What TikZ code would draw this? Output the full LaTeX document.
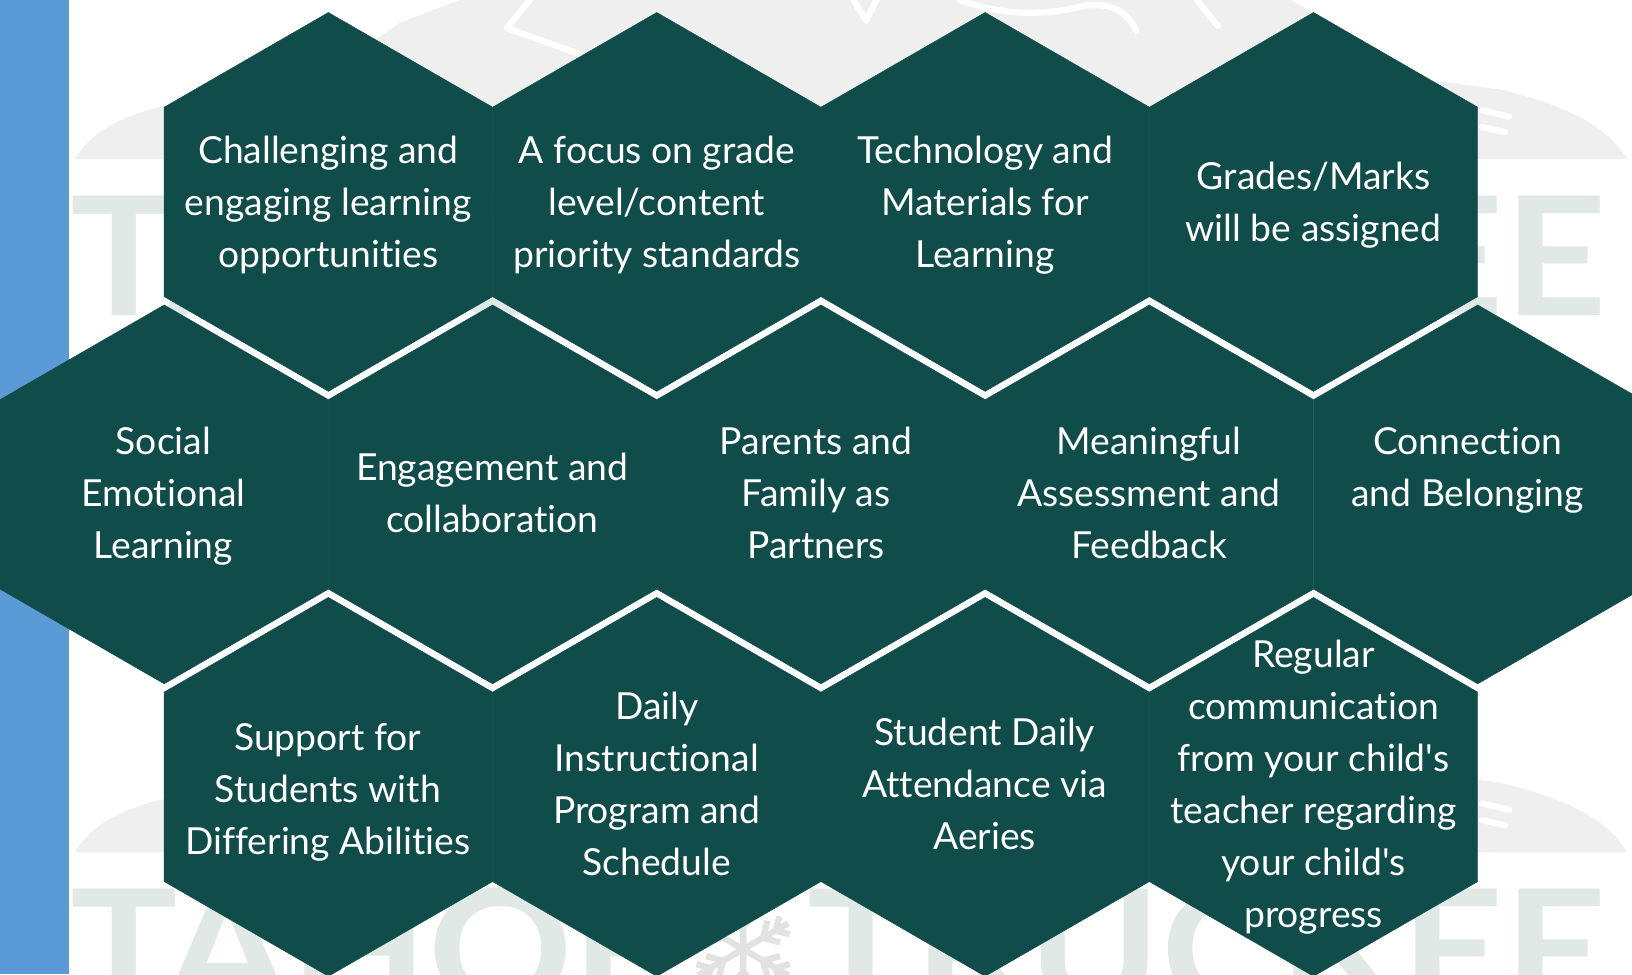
\documentclass[tikz,border=0pt]{standalone}
\usepackage{fontspec}
\setmainfont{Lato}[Ligatures={NoCommon}]
\definecolor{hexgreen}{HTML}{0F4C4A}
\definecolor{stripblue}{HTML}{5B9BD5}
\definecolor{logoletter}{HTML}{E0E9E5}
\definecolor{logomount}{HTML}{EFEFEF}
\definecolor{flake}{HTML}{E2E2E2}
\newcommand{\apos}{\textquotesingle}
\begin{document}
\begin{tikzpicture}[x=1pt,y=-1pt,
  hexcell/.style={fill=hexgreen,draw=hexgreen,line width=0.4pt},
  celltext/.style={text=white,align=center,inner sep=0pt,font=\fontsize{35.8}{50}\selectfont},
  logotext/.style={text=logoletter,inner sep=0pt,anchor=north west,font=\bfseries},
  streak/.style={draw=white,line width=6pt,line cap=round,line join=round}]
\useasboundingbox (0,0) rectangle (1568,936);
\fill[white] (0,0) rectangle (1568,936);
% watermark logo, drawn twice
\foreach \dy in {0,666}{
\begin{scope}[shift={(0,\dy)}]
  \fill[logomount] (72,153) .. controls (88,125) and (120,110) .. (165,100)
     -- (327,62) -- (384,22) -- (442,0) -- (1240,0) -- (1374,77) -- (1441,86)
     .. controls (1500,100) and (1545,120) .. (1563,153) -- cycle;
  \draw[streak] (509,0) -- (487,27) -- (557,52);
  \draw[streak] (922,0) .. controls (960,14) and (1000,16) .. (1040,6) .. controls (1070,0) and (1085,15) .. (1092,30);
  \draw[streak] (820,0) -- (832,20) -- (842,0);
  \draw[streak] (1150,0) -- (1170,25);
  \draw[streak] (1424,106) -- (1450,112);
  \draw[streak] (1424,122) -- (1446,127);
  \node[logotext] (tahoe\dy) at (68,187) {\resizebox{580pt}{116pt}{TAHOE}};
  \node[logotext] (truckee\dy) at (776,187) {\resizebox{767pt}{116pt}{TRUCKEE}};
  \begin{scope}[shift={(714,246)}]
    \foreach \a in {0,60,...,300}{
      \draw[flake,line width=6pt,rotate=\a] (0,0) -- (0,-50)
        (0,-22) -- (-12,-34) (0,-22) -- (12,-34)
        (0,-36) -- (-10,-46) (0,-36) -- (10,-46);
    }
  \end{scope}
\end{scope}
}
% blue strip
\fill[stripblue] (0,0) rectangle (66.5,936);
% hexagon cells
\foreach \cx/\cy in {315.5/194,631/194,946.5/194,1262/194,
   157.75/475,473.25/475,788.75/475,1104.25/475,1419.75/475,
   315.5/756,631/756,946.5/756,1262/756}{
  \fill[hexcell] (\cx,{\cy-182}) -- ({\cx+157.75},{\cy-91}) -- ({\cx+157.75},{\cy+91})
    -- (\cx,{\cy+182}) -- ({\cx-157.75},{\cy+91}) -- ({\cx-157.75},{\cy-91}) -- cycle;
}
% texts
\node[celltext] (t11) at (315.5,197) {Challenging and\\engaging learning\\opportunities};
\node[celltext] (t12) at (631,197) {A focus on grade\\level/content\\priority standards};
\node[celltext] (t13) at (946.5,197) {Technology and\\Materials for\\Learning};
\node[celltext] (t14) at (1262,197) {Grades/Marks\\will be assigned};
\node[celltext] (t21) at (157,477) {Social\\Emotional\\Learning};
\node[celltext] (t22) at (473,474) {Engagement and\\collaboration};
\node[celltext] (t23) at (784,474) {Parents and\\Family as\\Partners};
\node[celltext] (t24) at (1104,474) {Meaningful\\Assessment and\\Feedback};
\node[celltext] (t25) at (1410,452) {Connection\\and Belonging};
\node[celltext] (t31) at (315,761) {Support for\\Students with\\Differing Abilities};
\node[celltext] (t32) at (631,753) {Daily\\Instructional\\Program and\\Schedule};
\node[celltext] (t33) at (946,753) {Student Daily\\Attendance via\\Aeries};
\node[celltext] (t34) at (1262,756) {Regular\\communication\\from your child\apos s\\teacher regarding\\your child\apos s\\progress};
\end{tikzpicture}
\end{document}
